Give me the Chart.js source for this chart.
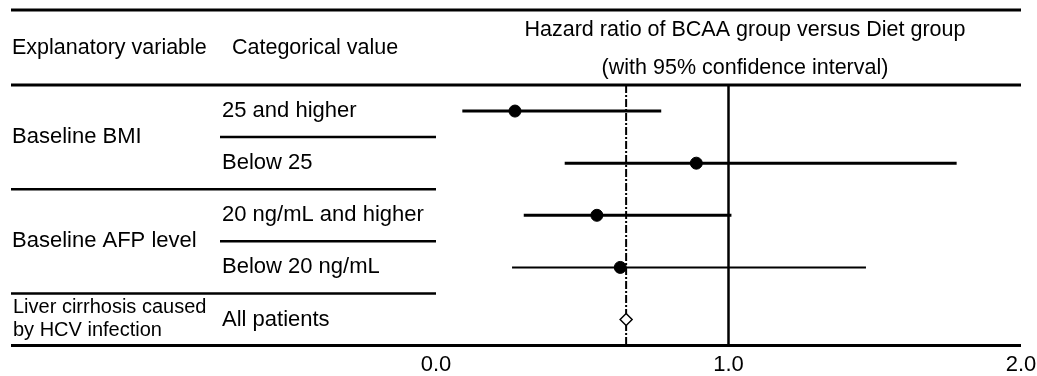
<!DOCTYPE html>
<html>
<head>
<meta charset="utf-8">
<script src="https://cdn.jsdelivr.net/npm/chart.js@4.4.1/dist/chart.umd.min.js"></script>
<style>
  html, body { margin: 0; padding: 0; background: #fff; }
  #wrap { width: 1037px; height: 376px; }
</style>
</head>
<body>
<div id="wrap"><canvas id="myChart" width="1037" height="376"></canvas></div>
<script>
// rows of the forest plot (top to bottom)
const groupNames = ['Baseline BMI', 'Baseline AFP level'];
const categoryNames = ['25 and higher', 'Below 25', '20 ng/mL and higher', 'Below 20 ng/mL', 'All patients'];
const hrEstimate = [0.27, 0.89, 0.55, 0.63];
const ciLower = [0.09, 0.44, 0.30, 0.26];
const ciUpper = [0.77, 1.78, 1.01, 1.47];
const ciWidth = [3, 3, 3, 2];
const overallHr = 0.65;       // all patients (diamond, dash-dot line)
const refLine = 1.0;
const xTicks = [0, 1, 2];

const FONT = '"Liberation Sans", Arial, sans-serif';
const rowY = (i) => i + 0.5;

// CI lines, one dataset per row
const ciSets = ciLower.map((lo, i) => ({
  type: 'line',
  data: [{ x: lo, y: rowY(i) }, { x: ciUpper[i], y: rowY(i) }],
  borderColor: '#000',
  borderWidth: ciWidth[i],
  pointRadius: 0,
  order: 5
}));

const datasets = ciSets.concat([
  {
    type: 'line',
    data: [{ x: refLine, y: 0 }, { x: refLine, y: 5 }],
    borderColor: '#000',
    borderWidth: 2.5,
    pointRadius: 0,
    order: 6
  },
  {
    type: 'line',
    data: [{ x: overallHr, y: 0 }, { x: overallHr, y: 5 }],
    borderColor: '#000',
    borderWidth: 2,
    borderDash: [8, 2, 2, 2],
    pointRadius: 0,
    order: 6
  },
  {
    type: 'scatter',
    data: hrEstimate.map((v, i) => ({ x: v, y: rowY(i) })),
    backgroundColor: '#000',
    borderColor: '#000',
    pointRadius: 6,
    order: 1
  },
  {
    type: 'scatter',
    data: [{ x: overallHr, y: rowY(4) }],
    pointStyle: 'rectRot',
    backgroundColor: '#fff',
    borderColor: '#000',
    borderWidth: 1.5,
    pointRadius: 6,
    order: 0
  }
]);

// table text + rules around the plot
const tablePlugin = {
  id: 'tablePlugin',
  afterDraw(chart) {
    const c = chart.ctx;
    const ys = chart.scales.y;
    const area = chart.chartArea;
    const L = 11, C2 = 220, R = area.right;
    c.save();
    c.strokeStyle = '#000';
    c.fillStyle = '#000';
    function hline(x1, x2, y, w) {
      c.lineWidth = w;
      c.beginPath(); c.moveTo(x1, y); c.lineTo(x2, y); c.stroke();
    }
    // header rules
    hline(L, R, 10, 3);
    hline(L, R, ys.getPixelForValue(0), 3);
    hline(L, R, ys.getPixelForValue(5), 3);
    // separators
    hline(C2, area.left, ys.getPixelForValue(1), 2.5);
    hline(L, area.left, ys.getPixelForValue(2), 2.5);
    hline(C2, area.left, ys.getPixelForValue(3), 2.5);
    hline(L, area.left, ys.getPixelForValue(4), 2.5);

    c.textBaseline = 'middle';
    c.font = '21.5px ' + FONT;
    c.textAlign = 'left';
    c.fillText('Explanatory variable', 12, 48);
    c.fillText('Categorical value', 232, 48);
    c.textAlign = 'center';
    const hx = 745;
    c.fillText('Hazard ratio of BCAA group versus Diet group', hx, 30);
    c.fillText('(with 95% confidence interval)', hx, 68);

    c.font = '22px ' + FONT;
    c.textAlign = 'left';
    c.fillText(groupNames[0], 12, ys.getPixelForValue(1));
    c.fillText(groupNames[1], 12, ys.getPixelForValue(3));
    categoryNames.forEach((t, i) => c.fillText(t, 222, ys.getPixelForValue(rowY(i))));
    c.font = '20px ' + FONT;
    c.fillText('Liver cirrhosis caused', 13, ys.getPixelForValue(rowY(4)) - 12);
    c.fillText('by HCV infection', 13, ys.getPixelForValue(rowY(4)) + 11);
    c.restore();
  }
};

new Chart(document.getElementById('myChart'), {
  type: 'scatter',
  data: { datasets },
  options: {
    responsive: false,
    animation: false,
    layout: { padding: { left: 436, right: 16, top: 85, bottom: -8 } },
    plugins: { legend: { display: false }, tooltip: { enabled: false } },
    scales: {
      x: {
        type: 'linear',
        min: 0,
        max: 2,
        afterBuildTicks: (s) => { s.ticks = xTicks.map(v => ({ value: v })); },
        afterFit: (s) => { s.paddingLeft = 0; s.paddingRight = 0; },
        grid: { display: false, drawTicks: false },
        border: { display: false },
        ticks: {
          color: '#000',
          padding: 6,
          font: { family: FONT, size: 22 },
          callback: (v) => Number(v).toFixed(1)
        }
      },
      y: {
        type: 'linear',
        min: 0,
        max: 5,
        reverse: true,
        display: false
      }
    }
  },
  plugins: [tablePlugin]
});
</script>
</body>
</html>
